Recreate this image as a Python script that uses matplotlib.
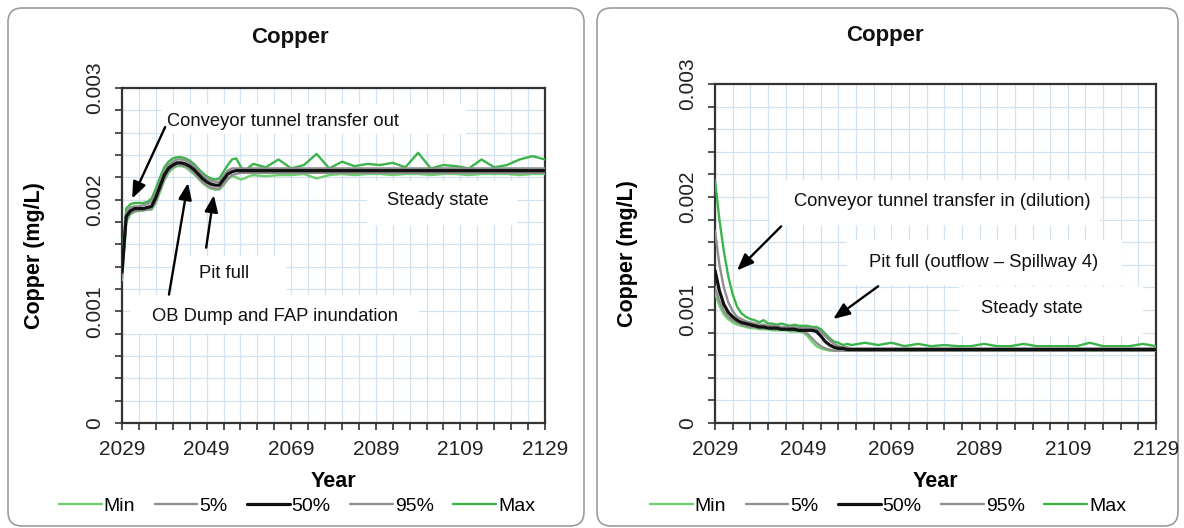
import matplotlib
matplotlib.use("Agg")
import matplotlib.pyplot as plt
from matplotlib.patches import FancyBboxPatch, Rectangle
from matplotlib.ticker import MultipleLocator, FixedLocator
from matplotlib.transforms import IdentityTransform

plt.rcParams['font.family'] = ['Liberation Sans', 'DejaVu Sans']

# ---------------------------------------------------------------- data
years = list(range(2029, 2061)) + list(range(2063, 2130, 3))

series_names = ["Min", "5%", "50%", "95%", "Max"]

# Left panel: pit lake copper, transfer-out case (mg/L)
left_min = [0.00128, 0.00180, 0.00187, 0.00189, 0.00190, 0.00190, 0.00191, 0.00191,
            0.00197, 0.00207, 0.00217, 0.00224, 0.00228, 0.00230, 0.00230, 0.00229,
            0.00226, 0.00223, 0.00219, 0.00215, 0.00212, 0.00210, 0.00209, 0.00209,
            0.00213, 0.00218, 0.00221, 0.00220, 0.00218, 0.00219, 0.00221, 0.00222,
            0.00221, 0.00222, 0.00222, 0.00223, 0.00219, 0.00222, 0.00223, 0.00222,
            0.00223, 0.00223, 0.00222, 0.00223, 0.00223, 0.00222, 0.00223, 0.00223,
            0.00222, 0.00223, 0.00223, 0.00223, 0.00222, 0.00223, 0.00223]
left_p05 = [0.00130, 0.00182, 0.00188, 0.00190, 0.00190, 0.00191, 0.00191, 0.00192,
            0.00199, 0.00209, 0.00219, 0.00226, 0.00229, 0.00231, 0.00231, 0.00230,
            0.00228, 0.00224, 0.00220, 0.00216, 0.00213, 0.00211, 0.00210, 0.00210,
            0.00214, 0.00219, 0.00222, 0.00223, 0.00224, 0.00224, 0.00224, 0.00224,
            0.00224, 0.00224, 0.00224, 0.00224, 0.00224, 0.00224, 0.00224, 0.00224,
            0.00224, 0.00224, 0.00224, 0.00224, 0.00224, 0.00224, 0.00224, 0.00224,
            0.00224, 0.00224, 0.00224, 0.00224, 0.00224, 0.00224, 0.00224]
left_p50 = [0.00135, 0.00185, 0.00190, 0.00192, 0.00192, 0.00192, 0.00193, 0.00194,
            0.00202, 0.00212, 0.00222, 0.00228, 0.00231, 0.00233, 0.00233, 0.00232,
            0.00230, 0.00227, 0.00223, 0.00219, 0.00216, 0.00214, 0.00213, 0.00213,
            0.00218, 0.00223, 0.00225, 0.00226, 0.00226, 0.00226, 0.00226, 0.00226,
            0.00226, 0.00226, 0.00226, 0.00226, 0.00226, 0.00226, 0.00226, 0.00226,
            0.00226, 0.00226, 0.00226, 0.00226, 0.00226, 0.00226, 0.00226, 0.00226,
            0.00226, 0.00226, 0.00226, 0.00226, 0.00226, 0.00226, 0.00226]
left_p95 = [0.00140, 0.00188, 0.00193, 0.00194, 0.00194, 0.00195, 0.00196, 0.00198,
            0.00206, 0.00216, 0.00225, 0.00231, 0.00234, 0.00236, 0.00236, 0.00235,
            0.00233, 0.00230, 0.00226, 0.00222, 0.00219, 0.00217, 0.00216, 0.00216,
            0.00221, 0.00226, 0.00228, 0.00228, 0.00228, 0.00228, 0.00228, 0.00228,
            0.00228, 0.00228, 0.00228, 0.00228, 0.00228, 0.00228, 0.00228, 0.00228,
            0.00228, 0.00228, 0.00228, 0.00228, 0.00228, 0.00228, 0.00228, 0.00228,
            0.00228, 0.00228, 0.00228, 0.00228, 0.00228, 0.00228, 0.00228]
left_max = [0.00145, 0.00192, 0.00196, 0.00197, 0.00197, 0.00197, 0.00198, 0.00201,
            0.00210, 0.00220, 0.00229, 0.00234, 0.00237, 0.00238, 0.00238, 0.00237,
            0.00235, 0.00232, 0.00228, 0.00224, 0.00221, 0.00219, 0.00218, 0.00219,
            0.00225, 0.00231, 0.00236, 0.00237, 0.00230, 0.00225, 0.00229, 0.00232,
            0.00229, 0.00236, 0.00228, 0.00231, 0.00241, 0.00228, 0.00234, 0.00230,
            0.00232, 0.00231, 0.00233, 0.00229, 0.00242, 0.00228, 0.00231, 0.00230,
            0.00228, 0.00236, 0.00229, 0.00231, 0.00236, 0.00239, 0.00236]

# Right panel: pit lake copper, transfer-in (dilution) case (mg/L)
right_min = [0.00115, 0.00104, 0.00096, 0.00092, 0.00089, 0.00087, 0.00086, 0.00085,
             0.00084, 0.00084, 0.00083, 0.00083, 0.00083, 0.00082, 0.00082, 0.00082,
             0.00082, 0.00081, 0.00081, 0.00081, 0.00080, 0.00077, 0.00072, 0.00068,
             0.00066, 0.00065, 0.00064, 0.00064, 0.00064, 0.00064, 0.00064, 0.00064,
             0.00064, 0.00064, 0.00064, 0.00064, 0.00064, 0.00064, 0.00064, 0.00064,
             0.00064, 0.00064, 0.00064, 0.00064, 0.00064, 0.00064, 0.00064, 0.00064,
             0.00064, 0.00064, 0.00064, 0.00064, 0.00064, 0.00064, 0.00064]
right_p05 = [0.00120, 0.00108, 0.00099, 0.00094, 0.00091, 0.00089, 0.00087, 0.00086,
             0.00085, 0.00085, 0.00084, 0.00084, 0.00084, 0.00083, 0.00083, 0.00083,
             0.00083, 0.00082, 0.00082, 0.00082, 0.00081, 0.00079, 0.00075, 0.00071,
             0.00068, 0.00066, 0.00065, 0.00064, 0.00064, 0.00064, 0.00064, 0.00064,
             0.00064, 0.00064, 0.00064, 0.00064, 0.00064, 0.00064, 0.00064, 0.00064,
             0.00064, 0.00064, 0.00064, 0.00064, 0.00064, 0.00064, 0.00064, 0.00064,
             0.00064, 0.00064, 0.00064, 0.00064, 0.00064, 0.00064, 0.00064]
right_p50 = [0.00135, 0.00117, 0.00105, 0.00098, 0.00094, 0.00091, 0.00089, 0.00088,
             0.00087, 0.00086, 0.00085, 0.00085, 0.00084, 0.00084, 0.00084, 0.00083,
             0.00083, 0.00083, 0.00083, 0.00082, 0.00082, 0.00082, 0.00082, 0.00081,
             0.00077, 0.00072, 0.00069, 0.00067, 0.00066, 0.00066, 0.00065, 0.00065,
             0.00065, 0.00065, 0.00065, 0.00065, 0.00065, 0.00065, 0.00065, 0.00065,
             0.00065, 0.00065, 0.00065, 0.00065, 0.00065, 0.00065, 0.00065, 0.00065,
             0.00065, 0.00065, 0.00065, 0.00065, 0.00065, 0.00065, 0.00065]
right_p95 = [0.00170, 0.00140, 0.00120, 0.00107, 0.00099, 0.00094, 0.00092, 0.00090,
             0.00089, 0.00088, 0.00087, 0.00087, 0.00086, 0.00086, 0.00086, 0.00085,
             0.00085, 0.00085, 0.00085, 0.00084, 0.00084, 0.00084, 0.00084, 0.00083,
             0.00081, 0.00077, 0.00073, 0.00070, 0.00068, 0.00067, 0.00067, 0.00066,
             0.00066, 0.00066, 0.00066, 0.00066, 0.00066, 0.00066, 0.00066, 0.00066,
             0.00066, 0.00066, 0.00066, 0.00066, 0.00066, 0.00066, 0.00066, 0.00066,
             0.00066, 0.00066, 0.00066, 0.00066, 0.00066, 0.00066, 0.00066]
right_max = [0.00215, 0.00180, 0.00152, 0.00130, 0.00114, 0.00103, 0.00097, 0.00094,
             0.00092, 0.00091, 0.00089, 0.00091, 0.00088, 0.00088, 0.00087, 0.00088,
             0.00087, 0.00086, 0.00087, 0.00086, 0.00086, 0.00086, 0.00085, 0.00085,
             0.00083, 0.00079, 0.00075, 0.00072, 0.00071, 0.00069, 0.00070, 0.00069,
             0.00071, 0.00069, 0.00071, 0.00068, 0.00070, 0.00068, 0.00069, 0.00068,
             0.00068, 0.00070, 0.00068, 0.00068, 0.00070, 0.00068, 0.00068, 0.00068,
             0.00068, 0.00071, 0.00068, 0.00068, 0.00068, 0.00070, 0.00068]

y_ticks = [0, 0.001, 0.002, 0.003]
y_tick_labels = ["0", "0.001", "0.002", "0.003"]
x_ticks = [2029, 2049, 2069, 2089, 2109, 2129]

# ---------------------------------------------------------------- style
line_styles = {
    "Min": dict(color="#6fd06f", lw=1.7, zorder=3),
    "5%": dict(color="#8f8f8f", lw=1.7, zorder=4),
    "50%": dict(color="#111111", lw=2.3, zorder=6),
    "95%": dict(color="#8f8f8f", lw=1.7, zorder=5),
    "Max": dict(color="#3cb44b", lw=1.7, zorder=3.5),
}
grid_color = "#d3e2f0"
W, H = 1184, 528

fig = plt.figure(figsize=(W / 100, H / 100), dpi=100)


def px_axes(x0, y0, x1, y1):
    return fig.add_axes([x0 / W, 1 - y1 / H, (x1 - x0) / W, (y1 - y0) / H])


def panel_frame(x0, y0, x1, y1):
    frame = FancyBboxPatch((x0, H - y1), x1 - x0, y1 - y0,
                           boxstyle="round,pad=0,rounding_size=14",
                           transform=IdentityTransform(), facecolor="white",
                           edgecolor="#9c9c9c", lw=1.2, zorder=-10)
    fig.add_artist(frame)


def style_axes(ax):
    ax.set_xlim(2029, 2129)
    ax.set_ylim(0, 0.003)
    ax.set_xticks(x_ticks)
    ax.set_xticklabels([str(x) for x in x_ticks])
    ax.xaxis.set_minor_locator(FixedLocator(list(range(2029, 2130, 4))))
    ax.set_yticks(y_ticks)
    ax.set_yticklabels(y_tick_labels, rotation=90, va="center")
    ax.yaxis.set_minor_locator(MultipleLocator(0.0002))
    ax.tick_params(axis="both", which="both", direction="out", length=5,
                   width=1.2, color="#333333", labelsize=15, labelcolor="#222222")
    ax.tick_params(axis="x", pad=7)
    ax.tick_params(axis="y", pad=8)
    ax.grid(True, which="both", color=grid_color, lw=0.9, zorder=0)
    ax.set_axisbelow(True)
    for s in ax.spines.values():
        s.set_color("#333333")
        s.set_linewidth(1.6)
    ax.set_xlabel("Year", fontsize=15.5, fontweight="bold", labelpad=9)
    ax.set_ylabel("Copper (mg/L)", fontsize=15.5, fontweight="bold", labelpad=29)


def draw_series(ax, data):
    for name, vals in zip(series_names, data):
        ax.plot(years, vals, label=name, solid_capstyle="round", **line_styles[name])


def white_box(ax, x0, x1, y0, y1):
    ax.add_patch(Rectangle((x0, y0), x1 - x0, y1 - y0, facecolor="white",
                           edgecolor="none", zorder=1.5))


def arrow(ax, tail, head):
    ax.annotate("", xy=head, xytext=tail,
                arrowprops=dict(arrowstyle="-|>,head_length=1.0,head_width=0.4",
                                color="black", lw=1.7, shrinkA=0, shrinkB=0),
                zorder=8)


ann_font = dict(fontsize=13.2, color="#111111", zorder=7)

# ---------------------------------------------------------------- left panel
panel_frame(8, 8, 584, 526)
axL = px_axes(122, 88, 545, 423)
style_axes(axL)
draw_series(axL, [left_min, left_p05, left_p50, left_p95, left_max])

white_box(axL, 2038.5, 2110.3, 0.00259, 0.00286)
white_box(axL, 2086.9, 2122.4, 0.00177, 0.00217)
white_box(axL, 2041.1, 2067.8, 0.00115, 0.00150)
white_box(axL, 2030.9, 2099.2, 0.00080, 0.00115)
axL.text(2039.6, 0.00270, "Conveyor tunnel transfer out", ha="left", va="center", **ann_font)
axL.text(2103.7, 0.00199, "Steady state", ha="center", va="center", **ann_font)
axL.text(2053.1, 0.00134, "Pit full", ha="center", va="center", **ann_font)
axL.text(2065.2, 0.00095, "OB Dump and FAP inundation", ha="center", va="center", **ann_font)
arrow(axL, (2039.2, 0.00265), (2031.4, 0.00201))
arrow(axL, (2040.1, 0.00115), (2044.6, 0.00215))
arrow(axL, (2048.9, 0.00157), (2050.7, 0.00204))

fig.text(290 / W, 1 - 38 / H, "Copper", ha="center", va="center",
         fontsize=16, fontweight="bold", color="#111111")

# ---------------------------------------------------------------- right panel
panel_frame(597, 8, 1178, 526)
axR = px_axes(715, 84, 1156, 423)
style_axes(axR)
draw_series(axR, [right_min, right_p05, right_p50, right_p95, right_max])

white_box(axR, 2041.5, 2116.3, 0.00175, 0.00215)
white_box(axR, 2058.9, 2121.3, 0.00122, 0.00162)
white_box(axR, 2084.3, 2126.1, 0.00077, 0.00120)
axR.text(2080.5, 0.00196, "Conveyor tunnel transfer in (dilution)", ha="center", va="center", **ann_font)
axR.text(2090.0, 0.00142, "Pit full (outflow \u2013 Spillway 4)", ha="center", va="center", **ann_font)
axR.text(2100.9, 0.00101, "Steady state", ha="center", va="center", **ann_font)
arrow(axR, (2044.0, 0.00174), (2034.0, 0.00135))
arrow(axR, (2066.0, 0.00121), (2055.8, 0.00092))

fig.text(885 / W, 1 - 35 / H, "Copper", ha="center", va="center",
         fontsize=16, fontweight="bold", color="#111111")

# ---------------------------------------------------------------- legends
for ax, cx in ((axL, 297 / W), (axR, 888 / W)):
    handles, labels = ax.get_legend_handles_labels()
    fig.legend(handles, labels, loc="center", bbox_to_anchor=(cx, 1 - 506 / H),
               ncol=5, frameon=False, fontsize=14, handlelength=2.2,
               handletextpad=0.1, columnspacing=1.0, borderaxespad=0)

fig.savefig("out.png", dpi=100)
